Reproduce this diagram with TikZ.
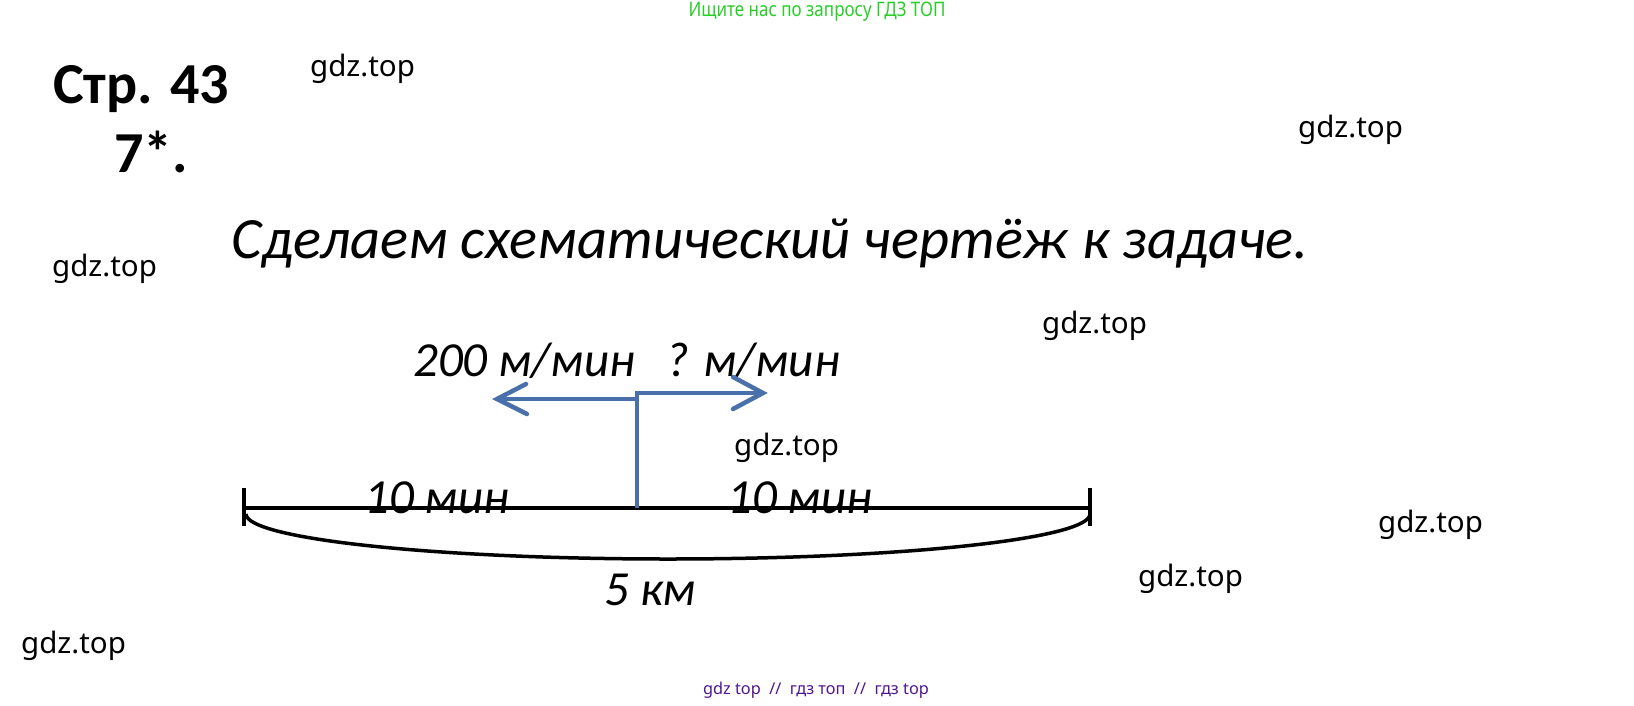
\documentclass[tikz,border=0pt]{standalone}
\usepackage{fontspec}
\setmainfont{Carlito}
\newfontfamily\wmfont{Noto Sans}
\definecolor{blueline}{RGB}{74,112,172}
\definecolor{topgreen}{RGB}{40,205,40}
\definecolor{botpurple}{RGB}{80,20,140}
\tikzset{
  wm/.style={anchor=base west,inner sep=0pt,font=\wmfont\fontsize{29.5}{31}\selectfont},
  title/.style={anchor=base west,inner sep=0pt,font=\bfseries\fontsize{58}{60}\selectfont},
  lbl/.style={anchor=base west,inner sep=0pt,font=\itshape\fontsize{49}{51}\selectfont},
  blk/.style={line width=4pt,black},
  blu/.style={line width=4.5pt,blueline},
}
\begin{document}
\begin{tikzpicture}[x=1pt,y=-1pt]
\useasboundingbox (0,0) rectangle (1634,705);
% header
\node[anchor=center,inner sep=0pt,text=topgreen,font=\wmfont\fontsize{20}{22}\selectfont,xscale=0.85] (hdr) at (817,12) {Ищите нас по запросу ГДЗ ТОП};
\node[title] (page) at (53,103) {Стр. 43};
\node[title] (num) at (114,172) {7*.};
\node[anchor=base,inner sep=0pt,font=\itshape\fontsize{58.5}{60}\selectfont] (head) at (770,258) {Сделаем схематический чертёж к задаче.};
% watermarks
\node[wm] (w1) at (310,76) {gdz.top};
\node[wm] (w2) at (1298,137) {gdz.top};
\node[wm] (w3) at (52,276) {gdz.top};
\node[wm] (w4) at (1042,333) {gdz.top};
\node[wm] (w5) at (734,455) {gdz.top};
\node[wm] (w6) at (1378,532) {gdz.top};
\node[wm] (w7) at (1138,586) {gdz.top};
\node[wm] (w8) at (21,653) {gdz.top};
\node[anchor=center,inner sep=0pt,text=botpurple,font=\wmfont\fontsize{16.3}{18}\selectfont] (foot) at (816,690) {gdz top \ // \ гдз топ \ // \ гдз top};
% labels
\node[lbl] (v1) at (413,376) {200 м/мин};
\node[lbl] (v2) at (666,376) {? м/мин};
\node[lbl] (t1) at (364,513) {10 мин};
\node[lbl] (t2) at (727,513) {10 мин};
\node[lbl] (d) at (604,605) {5 км};
% geometry
\coordinate (A) at (244,508);
\coordinate (B) at (1090,508);
\coordinate (At) at (244,488);
\coordinate (Ab) at (244,526);
\coordinate (Bt) at (1090,488);
\coordinate (Bb) at (1090,526);
\coordinate (M) at (637,508);
\coordinate (Mt) at (637,393);
\coordinate (Ml) at (637,399);
\coordinate (L) at (497,399);
\coordinate (R) at (763,393);
\draw[blk] (A) -- (B);
\draw[blk] (At) -- (Ab);
\draw[blk] (Bt) -- (Bb);
\draw[blk,line width=3.5pt] (1090,514) arc[start angle=0,end angle=180,x radius=422,y radius=45];
\draw[blu] (M) -- (Mt) -- (R);
\draw[blu] (Ml) -- (L);
\draw[blu,line cap=round] (526,384) -- (L) -- (527,414);
\draw[blu,line cap=round] (733,377) -- (R) -- (733,409);
\end{tikzpicture}
\end{document}
